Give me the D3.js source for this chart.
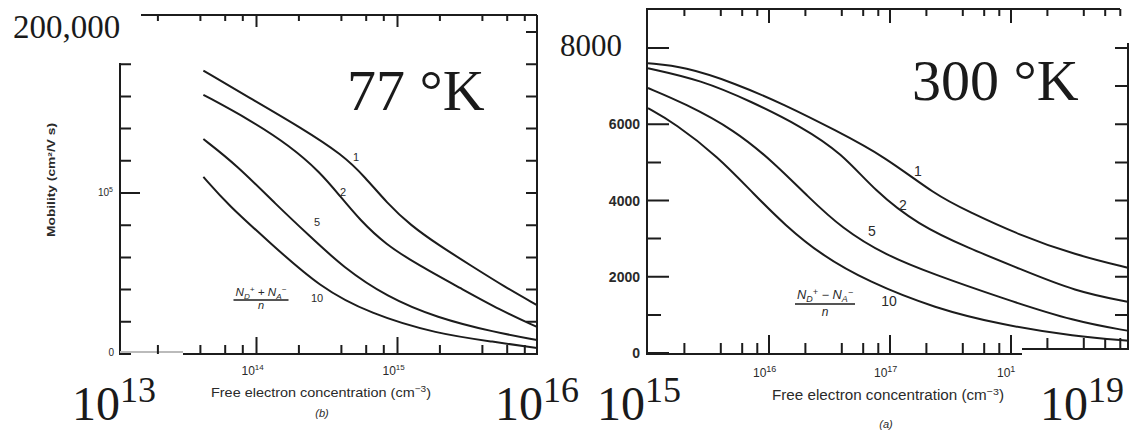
<!DOCTYPE html>
<html>
<head>
<meta charset="utf-8">
<script src="https://cdn.jsdelivr.net/npm/d3@7"></script>
<style>
  html, body { margin: 0; padding: 0; background: #fff; }
  svg { display: block; }
  .small { font-family: "Liberation Sans", Arial, sans-serif; fill: #2a2a2a; }
  .big { font-family: "Liberation Serif", "Times New Roman", serif; fill: #1a1a1a; }
</style>
</head>
<body>
<svg id="chart" width="1139" height="431"></svg>
<script>
// curve labels = (N_D+ +/- N_A-) / n
const ratios = ["1", "2", "5", "10"];

// 77 K panel: free electron concentration (cm^-3) and mobility (cm^2/V s)
const n77_1  = [4.2e13, 9.0e13, 2.03e14, 4.11e14, 5.88e14, 8.42e14, 1.23e15, 2.0e15, 3.27e15, 5.79e15, 9.75e15];
const mu77_1 = [176000, 159000, 141000, 123600, 109900, 93800, 80100, 67100, 55300, 41600, 30400];
const n77_2  = [4.2e13, 9.0e13, 1.73e14, 2.82e14, 3.91e14, 5.42e14, 8.15e14, 1.44e15, 2.78e15, 5.33e15, 9.75e15];
const mu77_2 = [161000, 145400, 129200, 113000, 98100, 83200, 68300, 54700, 41000, 27300, 16800];
const n77_5  = [4.2e13, 7.2e13, 1.39e14, 2.4e14, 4.1e14, 8.4e14, 1.9e15, 4.9e15, 9.75e15];
const mu77_5 = [133500, 117500, 92500, 73000, 54000, 35500, 22500, 13500, 8700];
const n77_10  = [4.2e13, 6.3e13, 1.25e14, 2.8e14, 6.4e14, 1.9e15, 4.9e15, 9.75e15];
const mu77_10 = [110000, 92500, 69000, 41500, 25000, 12500, 7500, 3700];

// 300 K panel
const n300_1  = [1e15, 2.0e15, 5.2e15, 1.35e16, 3.5e16, 9.1e16, 2.36e17, 4.46e17, 1.16e18, 3.41e18, 9.4e18];
const mu300_1 = [7600, 7510, 7080, 6510, 5850, 5150, 4150, 3710, 3100, 2570, 2230];
const n300_2  = [1e15, 2.75e15, 7.1e15, 1.85e16, 4.0e16, 7.5e16, 1.71e17, 4.46e17, 1.16e18, 3.41e18, 9.4e18];
const mu300_2 = [7470, 7160, 6600, 5940, 5240, 4250, 3360, 2750, 2220, 1610, 1340];
const n300_5  = [1e15, 2.0e15, 5.2e15, 1.11e16, 2.1e16, 4.0e16, 9.1e16, 2.36e17, 8.4e17, 3.41e18, 9.4e18];
const mu300_5 = [6950, 6550, 5850, 4980, 4100, 3270, 2570, 2050, 1440, 820, 580];
const n300_10  = [1e15, 1.66e15, 3.8e15, 7.6e15, 1.35e16, 2.7e16, 6.6e16, 2.36e17, 8.4e17, 3.41e18, 9.4e18];
const mu300_10 = [6420, 6030, 5150, 4150, 3360, 2570, 1870, 1170, 740, 430, 320];

// ticks
const minorSteps = [2, 4, 6, 8];
const decades77 = [1e13, 1e14, 1e15];
const decades300 = [1e15, 1e16, 1e17, 1e18];
const major77 = [1e14, 1e15];
const major300 = [1e16, 1e17, 1e18];
const mu77Left = [0, 20000, 40000, 60000, 80000, 120000, 140000, 160000, 180000];
const mu77Major = [100000];
const mu77Right = [20000, 40000, 60000, 80000, 100000, 120000, 140000, 160000, 180000, 200000];
const mu300Labeled = [0, 2000, 4000, 6000, 8000];
const mu300Minor = [1000, 3000, 5000];
const mu300Right = [1000, 2000, 3000, 4000, 5000, 6000, 7000, 8000];
const mu300TickLabels = ["0", "2000", "4000", "6000"];

const svg = d3.select("#chart");
const ink = "#1c1c1c";

const x77 = d3.scaleLog().domain([1e13, 1e16]).range([115.5, 538.5]);
const y77 = d3.scaleLinear().domain([0, 100000]).range([354, 193]);
const x300 = d3.scaleLog().domain([1e15, 1e19]).range([648, 1132]);
const y300 = d3.scaleLinear().domain([0, 8000]).range([353, 48]);

const minor77 = decades77.flatMap(d => minorSteps.map(m => m * d));
const minor300 = decades300.flatMap(d => minorSteps.map(m => m * d));

// tick marks along a horizontal edge at y (len < 0 points up)
function ticksX(scale, values, y, len) {
  svg.append("path")
    .attr("d", values.map(v => `M${scale(v).toFixed(1)},${y}V${y + len}`).join(""))
    .attr("fill", "none")
    .attr("stroke", ink)
    .attr("stroke-width", 2);
}
// tick marks along a vertical edge at x (len > 0 points right)
function ticksY(scale, values, x, len) {
  svg.append("path")
    .attr("d", values.map(v => `M${x},${scale(v).toFixed(1)}H${x + len}`).join(""))
    .attr("fill", "none")
    .attr("stroke", ink)
    .attr("stroke-width", 2);
}

function frameLine(x1, y1, x2, y2, color) {
  svg.append("line")
    .attr("x1", x1).attr("y1", y1).attr("x2", x2).attr("y2", y2)
    .attr("stroke", color || ink).attr("stroke-width", 2);
}

// ---------- 77 K frame ----------
frameLine(141, 15, 537, 15);
frameLine(537, 15, 537, 355);
frameLine(120, 63, 120, 355);
frameLine(120, 352, 183, 352, "#bbb");
frameLine(183, 354, 538, 354);

ticksX(x77, minor77, 354, -9);
ticksX(x77, major77, 354, -17);
ticksX(x77, minor77, 15, 6);
ticksX(x77, major77, 15, 12);
ticksY(y77, mu77Left, 120, 11);
ticksY(y77, mu77Major, 120, 20);
ticksY(y77, mu77Right, 537, -11);

// ---------- 300 K frame ----------
frameLine(647, 9, 1120, 9);
frameLine(647, 8, 647, 355);
frameLine(646, 354, 1022, 354);
frameLine(1022, 349, 1129, 349);
frameLine(1128, 43, 1128, 350);

ticksX(x300, minor300.filter(v => v < 1.5e18), 354, -11);
ticksX(x300, minor300.filter(v => v > 1.5e18), 349, -11);
ticksX(x300, major300, 354, -19);
ticksX(x300, minor300, 9, 7);
ticksX(x300, major300, 9, 14);
ticksY(y300, mu300Labeled, 647, 22);
ticksY(y300, mu300Minor, 647, 14);
ticksY(y300, mu300Right, 1128, -13);

// ---------- curves ----------
function drawCurve(xs, ys, nArr, muArr) {
  const line = d3.line()
    .x(d => xs(d[0]))
    .y(d => ys(d[1]))
    .curve(d3.curveBasis);
  svg.append("path")
    .datum(d3.zip(nArr, muArr))
    .attr("d", line)
    .attr("fill", "none")
    .attr("stroke", ink)
    .attr("stroke-width", 2);
}

drawCurve(x77, y77, n77_1, mu77_1);
drawCurve(x77, y77, n77_2, mu77_2);
drawCurve(x77, y77, n77_5, mu77_5);
drawCurve(x77, y77, n77_10, mu77_10);
drawCurve(x300, y300, n300_1, mu300_1);
drawCurve(x300, y300, n300_2, mu300_2);
drawCurve(x300, y300, n300_5, mu300_5);
drawCurve(x300, y300, n300_10, mu300_10);

// ---------- text ----------
function txt(x, y, s, cls, size, anchor) {
  return svg.append("text")
    .attr("class", cls)
    .attr("x", x).attr("y", y)
    .attr("font-size", size)
    .attr("text-anchor", anchor || "start")
    .text(s);
}

// power of ten with superscript
function pow10(x, y, base, exp, size, supSize, rise, cls, anchor) {
  const t = svg.append("text")
    .attr("class", cls)
    .attr("x", x).attr("y", y)
    .attr("font-size", size)
    .attr("text-anchor", anchor || "start");
  t.append("tspan").text(base);
  t.append("tspan").attr("font-size", supSize).attr("dy", -rise).text(exp);
  return t;
}

// curve numbers
const lab77 = [[356, 161], [343, 196], [317, 226], [317, 302]];
const lab300 = [[918, 176], [903, 210], [872, 236], [889, 306]];
ratios.forEach((r, i) => {
  txt(lab77[i][0], lab77[i][1], r, "small", 11, "middle");
  txt(lab300[i][0], lab300[i][1], r, "small", 14, "middle");
});

// fraction legends
function fraction(cx, yNum, yBar, yDen, w, sign, size) {
  const t = svg.append("text").attr("class", "small")
    .attr("x", cx).attr("y", yNum)
    .attr("font-size", size).attr("font-style", "italic")
    .attr("text-anchor", "middle")
    .attr("textLength", w - 4).attr("lengthAdjust", "spacingAndGlyphs");
  t.append("tspan").text("N");
  t.append("tspan").attr("font-size", size * 0.7).attr("dy", 3).text("D");
  t.append("tspan").attr("font-size", size * 0.7).attr("dy", -7).text("+");
  t.append("tspan").attr("dy", 4).text(" " + sign + " N");
  t.append("tspan").attr("font-size", size * 0.7).attr("dy", 3).text("A");
  t.append("tspan").attr("font-size", size * 0.7).attr("dy", -7).text("\u2212");
  svg.append("line")
    .attr("x1", cx - w / 2).attr("x2", cx + w / 2)
    .attr("y1", yBar).attr("y2", yBar)
    .attr("stroke", ink).attr("stroke-width", 1.3);
  txt(cx, yDen, "n", "small", size, "middle").attr("font-style", "italic");
}
fraction(261, 296, 300, 309, 55, "+", 11);
fraction(825, 299, 304, 316, 60, "\u2212", 12);

// axis title with superscript exponent, stretched to the scanned width
function title(cx, y, size, len) {
  const t = txt(cx, y, "Free electron concentration (cm", "small", size, "middle")
    .attr("textLength", len).attr("lengthAdjust", "spacingAndGlyphs");
  t.append("tspan").attr("font-size", size * 0.7).attr("dy", -5).text("\u22123");
  t.append("tspan").attr("dy", 5).text(")");
}

// small axis labels, 77 K
pow10(113, 196, "10", "5", 10, 7, 4, "small", "end");
txt(114, 356, "0", "small", 10, "end");
pow10(x77(1e14) - 15, 375, "10", "14", 12, 8, 5, "small");
pow10(x77(1e15) - 15, 375, "10", "15", 12, 8, 5, "small");
title(321, 397, 13, 220);
txt(322, 417, "(b)", "small", 11, "middle").attr("font-style", "italic");
txt(0, 0, "Mobility (cm\u00B2/V s)", "small", 10, "middle")
  .attr("transform", "translate(55,180) rotate(-90)")
  .attr("textLength", 114).attr("lengthAdjust", "spacingAndGlyphs")
  .attr("font-weight", "bold");

// small axis labels, 300 K
mu300TickLabels.forEach((s, i) => {
  txt(640, y300(mu300Labeled[i]) + 5, s, "small", 14, "end")
    .attr("font-weight", "bold");
});
pow10(x300(1e16) - 16, 377, "10", "16", 12, 9, 5, "small");
pow10(x300(1e17) - 16, 377, "10", "17", 12, 9, 5, "small");
pow10(x300(1e18) - 14, 377, "10", "1", 12, 9, 5, "small");
title(888, 400, 14, 232);
txt(886, 428, "(a)", "small", 11, "middle").attr("font-style", "italic");

// large overlay annotations
txt(13, 38, "200,000", "big", 33);
txt(560, 56, "8000", "big", 31);
txt(347, 110, "77 \u00B0K", "big", 58);
txt(912, 100, "300 \u00B0K", "big", 58);
pow10(72, 420, "10", "13", 48, 36, 18, "big");
pow10(495, 420, "10", "16", 48, 36, 18, "big");
pow10(597, 420, "10", "15", 48, 36, 18, "big");
pow10(1040, 420, "10", "19", 48, 36, 18, "big");
</script>
</body>
</html>
